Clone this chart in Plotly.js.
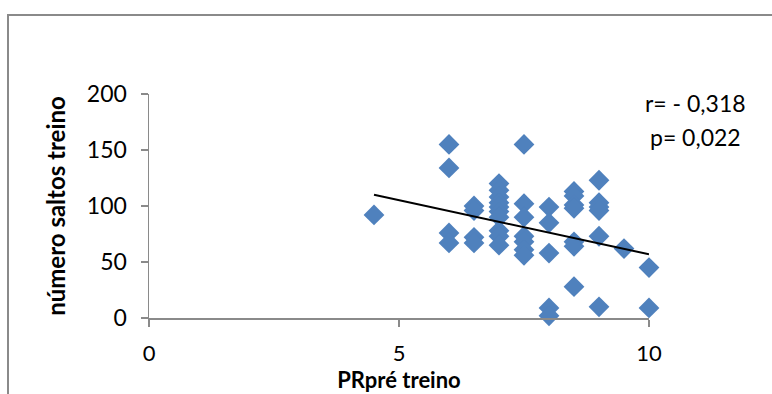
<!DOCTYPE html>
<html>
<head>
<meta charset="utf-8">
<script src="https://cdn.plot.ly/plotly-3.0.1.min.js"></script>
<style>
html,body{margin:0;padding:0;background:#fff;}
#wrap{position:relative;width:772px;height:394px;overflow:hidden;}
#chart{position:absolute;left:0;top:0;width:772px;height:394px;}
#frame{position:absolute;left:7px;top:14px;width:800px;height:420px;border-left:2px solid #8a8a8a;border-top:2px solid #8a8a8a;pointer-events:none;}
</style>
</head>
<body>
<div id="wrap"><div id="chart"></div><div id="frame"></div></div>
<script>
// PRpré treino (x) vs número saltos treino (y)
const prPre = [4.5,
  6, 6, 6, 6,
  6.5, 6.5, 6.5, 6.5,
  7, 7, 7, 7, 7, 7, 7, 7, 7, 7,
  7.5, 7.5, 7.5, 7.5, 7.5, 7.5, 7.5,
  8, 8, 8, 8, 8,
  8.5, 8.5, 8.5, 8.5, 8.5, 8.5, 8.5,
  9, 9, 9, 9, 9, 9,
  9.5,
  10, 10];
const saltos = [92,
  155, 134, 76, 67,
  100, 96, 72, 67,
  120, 114, 108, 103, 99, 95, 90, 78, 73, 65,
  155, 102, 90, 73, 68, 61, 56,
  99, 85, 58, 9, 2,
  113, 109, 101, 98, 68, 64, 28,
  123, 103, 99, 96, 73, 10,
  62,
  45, 9];
// linear trendline
const trendX = [4.5, 10];
const trendY = [110, 57];
const xTicks = [0, 5, 10];
const yTicks = [0, 50, 100, 150, 200];
const statsText = ["r= - 0,318", "p= 0,022"];

const fontFam = "Lato, 'Open Sans', sans-serif";

const traces = [
  {x: prPre, y: saltos, type: 'scatter', mode: 'markers', cliponaxis: false,
   marker: {symbol: 'diamond', size: 16, color: '#4F81BD', line: {width: 0}}},
  {x: trendX, y: trendY, type: 'scatter', mode: 'lines', cliponaxis: false,
   line: {color: '#000', width: 2}}
];

const layout = {
  width: 772, height: 394,
  margin: {l: 149, r: 123, t: 94, b: 76},
  paper_bgcolor: '#fff', plot_bgcolor: '#fff',
  showlegend: false,
  font: {family: fontFam, size: 23, color: '#000'},
  xaxis: {range: [0, 10], tickvals: xTicks, ticktext: xTicks.map(String),
    showgrid: false, zeroline: false, showline: true, linecolor: '#8a8a8a', linewidth: 1.5,
    ticks: 'outside', ticklen: 7, tickcolor: '#8a8a8a', tickwidth: 1.5,
    ticklabelstandoff: 8,
    tickfont: {family: fontFam, size: 22, color: '#000'},
    title: {text: '<b>PRpré treino</b>', font: {family: fontFam, size: 22, color: '#000'}, standoff: 6}},
  yaxis: {range: [0, 200], tickvals: yTicks, ticktext: yTicks.map(String),
    showgrid: false, zeroline: false, showline: true, linecolor: '#8a8a8a', linewidth: 1.5,
    ticks: 'outside', ticklen: 7, tickcolor: '#8a8a8a', tickwidth: 1.5,
    ticklabelstandoff: 9,
    tickfont: {family: fontFam, size: 23, color: '#000'},
    title: {text: '<b>número saltos treino</b>', font: {family: fontFam, size: 24, color: '#000'}, standoff: 14}},
  annotations: [
    {xref: 'paper', yref: 'paper', x: 1.092, y: 0.96, text: statsText[0], showarrow: false,
     xanchor: 'center', yanchor: 'middle', font: {family: fontFam, size: 23, color: '#000'}},
    {xref: 'paper', yref: 'paper', x: 1.092, y: 0.81, text: statsText[1], showarrow: false,
     xanchor: 'center', yanchor: 'middle', font: {family: fontFam, size: 23, color: '#000'}}
  ]
};

Plotly.newPlot('chart', traces, layout, {staticPlot: true, displayModeBar: false});
</script>
</body>
</html>
